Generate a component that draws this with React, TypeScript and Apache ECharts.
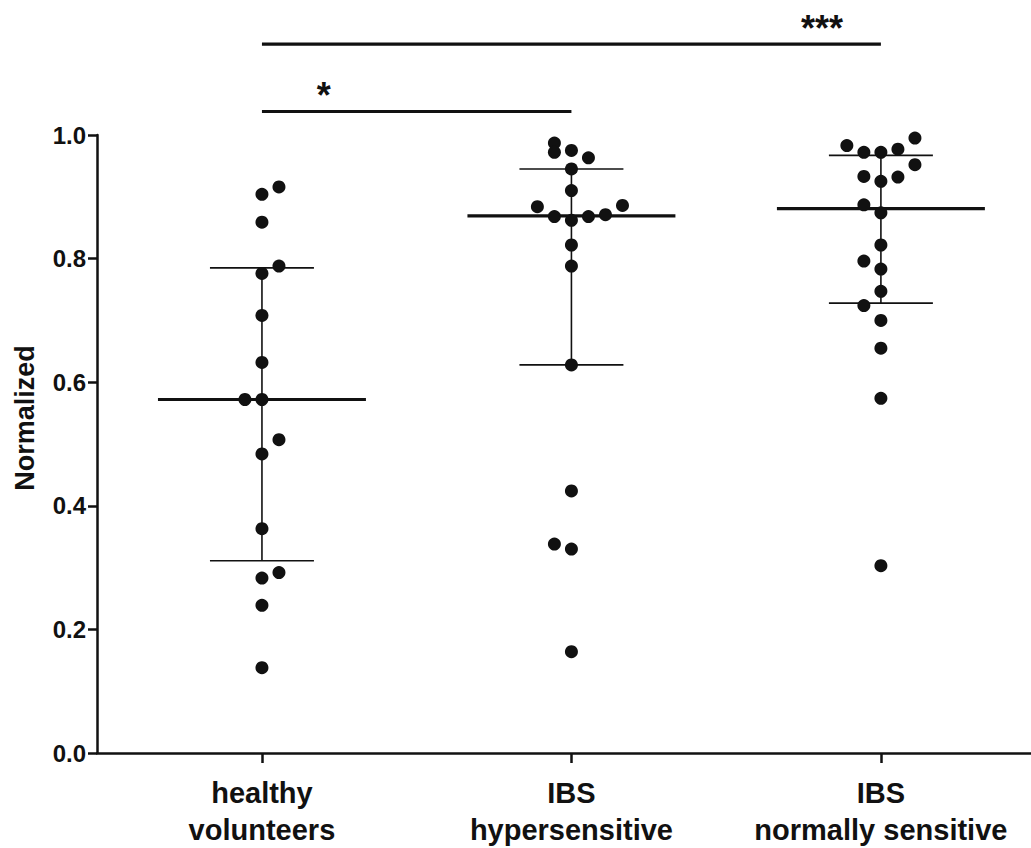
import React, { useEffect, useRef } from "react";
import * as echarts from "echarts";

// Groups along the x axis
const categories = ["healthy\nvolunteers", "IBS\nhypersensitive", "IBS\nnormally sensitive"];

// Individual normalized values per group, with their side-by-side column slot
const healthyValues = [0.916, 0.904, 0.859, 0.788, 0.776, 0.708, 0.632, 0.572, 0.572, 0.507, 0.484, 0.363, 0.292, 0.283, 0.239, 0.138];
const healthySlots = [1, 0, 0, 1, 0, 0, 0, -1, 0, 1, 0, 0, 1, 0, 0, 0];

const hyperValues = [0.987, 0.972, 0.975, 0.963, 0.945, 0.91, 0.884, 0.886, 0.868, 0.862, 0.868, 0.871, 0.822, 0.788, 0.628, 0.424, 0.338, 0.33, 0.164];
const hyperSlots = [-1, -1, 0, 1, 0, 0, -2, 3, -1, 0, 1, 2, 0, 0, 0, 0, -1, 0, 0];

const normalValues = [0.983, 0.995, 0.972, 0.972, 0.977, 0.952, 0.933, 0.925, 0.932, 0.887, 0.874, 0.822, 0.796, 0.783, 0.747, 0.724, 0.7, 0.655, 0.574, 0.303];
const normalSlots = [-2, 2, -1, 0, 1, 2, -1, 0, 1, -1, 0, 0, -1, 0, 0, -1, 0, 0, 0, 0];

// Median with interquartile range per group
const medians = [0.572, 0.869, 0.881];
const lowerQuartiles = [0.311, 0.628, 0.728];
const upperQuartiles = [0.785, 0.945, 0.967];

// Y axis ticks
const yTicks = [0, 0.2, 0.4, 0.6, 0.8, 1.0];

// Significance comparisons: [from group, to group], and their marks
const sigPairs = [
  [0, 1],
  [0, 2],
];
const sigMarks = ["*", "***"];

// Layout constants
const SLOT_STEP = 0.055;
const MEDIAN_HALF = 0.336;
const CAP_HALF = 0.168;
const SIG_LEVELS = [1.038, 1.147];
const SIG_TEXT_X = [0.2, 1.81];
const FONT = "'Liberation Sans', Arial, Helvetica, sans-serif";

export default function App() {
  const ref = useRef<HTMLDivElement>(null);

  useEffect(() => {
    if (!ref.current) return;
    const chart = echarts.init(ref.current, null, { renderer: "svg" });

    const groups = [
      [healthyValues, healthySlots],
      [hyperValues, hyperSlots],
      [normalValues, normalSlots],
    ];
    const dots: number[][] = [];
    groups.forEach(([vals, slots], g) => {
      vals.forEach((v, i) => dots.push([g + slots[i] * SLOT_STEP, v]));
    });

    const summary = medians.map((m, i) => [i, m, lowerQuartiles[i], upperQuartiles[i]]);

    chart.setOption({
      animation: false,
      backgroundColor: "#ffffff",
      grid: { left: 97, right: 0, top: 135, bottom: 95, containLabel: false },
      xAxis: {
        type: "value",
        min: -0.533,
        max: 2.485,
        splitLine: { show: false },
        axisLine: { show: true, onZero: false, lineStyle: { color: "#111", width: 2.5 } },
        axisTick: {
          show: true,
          customValues: [0, 1, 2],
          length: 10,
          lineStyle: { color: "#111", width: 2.5 },
        },
        axisLabel: {
          show: true,
          customValues: [0, 1, 2],
          formatter: (v: number) => categories[Math.round(v)] ?? "",
          fontFamily: FONT,
          fontWeight: "bold",
          fontSize: 29,
          lineHeight: 37,
          color: "#111",
          margin: 21,
        },
      },
      yAxis: {
        type: "value",
        min: 0,
        max: 1,
        interval: 0.2,
        splitLine: { show: false },
        axisLine: { show: true, onZero: false, lineStyle: { color: "#111", width: 2.5 } },
        axisTick: { show: true, length: 9, lineStyle: { color: "#111", width: 2.5 } },
        axisLabel: {
          formatter: (v: number) => (yTicks.includes(Math.round(v * 10) / 10) ? v.toFixed(1) : ""),
          fontFamily: FONT,
          fontWeight: "bold",
          fontSize: 24,
          color: "#111",
          margin: 11,
        },
      },
      series: [
        {
          type: "custom",
          z: 1,
          data: summary,
          renderItem: (params: any, api: any) => {
            const x = api.value(0);
            const med = api.value(1);
            const lo = api.value(2);
            const hi = api.value(3);
            const p = (a: number, b: number) => api.coord([a, b]);
            const ln = (a: number[], b: number[], w: number) => ({
              type: "line",
              shape: { x1: a[0], y1: a[1], x2: b[0], y2: b[1] },
              style: { stroke: "#111", lineWidth: w },
            });
            return {
              type: "group",
              children: [
                ln(p(x, lo), p(x, hi), 1.6),
                ln(p(x - CAP_HALF, lo), p(x + CAP_HALF, lo), 1.6),
                ln(p(x - CAP_HALF, hi), p(x + CAP_HALF, hi), 1.6),
                ln(p(x - MEDIAN_HALF, med), p(x + MEDIAN_HALF, med), 3.2),
              ],
            };
          },
        },
        {
          type: "scatter",
          z: 2,
          symbol: "circle",
          symbolSize: 13,
          itemStyle: { color: "#111111", opacity: 1 },
          data: dots,
        },
      ],
    });

    // Significance brackets above the plot, positioned through the grid's scales
    const graphics: any[] = [];
    sigPairs.forEach(([a, b], i) => {
      const p1 = chart.convertToPixel({ gridIndex: 0 }, [a, SIG_LEVELS[i]]) as number[];
      const p2 = chart.convertToPixel({ gridIndex: 0 }, [b, SIG_LEVELS[i]]) as number[];
      const pt = chart.convertToPixel({ gridIndex: 0 }, [SIG_TEXT_X[i], SIG_LEVELS[i]]) as number[];
      graphics.push({
        type: "line",
        shape: { x1: p1[0], y1: p1[1], x2: p2[0], y2: p2[1] },
        style: { stroke: "#111", lineWidth: 3.2 },
      });
      graphics.push({
        type: "text",
        x: pt[0],
        y: pt[1] - 16,
        style: {
          text: sigMarks[i],
          fontFamily: FONT,
          fontWeight: "bold",
          fontSize: 36,
          fill: "#111",
          align: "center",
          verticalAlign: "middle",
        },
      });
    });
    graphics.push({
      type: "text",
      x: 25,
      y: 418,
      rotation: Math.PI / 2,
      style: {
        text: "Normalized",
        fontFamily: FONT,
        fontWeight: "bold",
        fontSize: 27,
        fill: "#111",
        align: "center",
        verticalAlign: "middle",
      },
    });
    chart.setOption({ graphic: graphics });

    return () => chart.dispose();
  }, []);

  return (
    <div
      ref={ref}
      style={{ position: "absolute", left: 0, top: 0, width: 1031, height: 848, background: "#fff" }}
    />
  );
}
